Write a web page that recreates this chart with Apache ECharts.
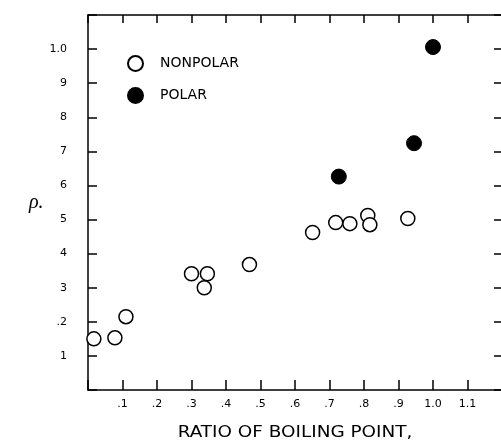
<!DOCTYPE html>
<html>
<head>
<meta charset="utf-8">
<script src="https://cdn.jsdelivr.net/npm/echarts@6/dist/echarts.min.js"></script>
<style>html,body{margin:0;padding:0;background:#fff}#c{width:501px;height:441px}</style>
</head>
<body>
<div id="c"></div>
<script>
// Data
var nonpolarX = [0.017, 0.078, 0.11, 0.30, 0.346, 0.337, 0.468, 0.651, 0.718, 0.759, 0.811, 0.817, 0.927];
var nonpolarY = [0.15, 0.153, 0.215, 0.341, 0.341, 0.30, 0.368, 0.462, 0.491, 0.488, 0.512, 0.485, 0.503];
var polarX = [0.727, 0.945, 1.0];
var polarY = [0.626, 0.724, 1.006];
var xTickLabels = ['', '.1', '.2', '.3', '.4', '.5', '.6', '.7', '.8', '.9', '1.0', '1.1', ''];
var yTickLabels = ['', '1', '.2', '3', '4', '5', '6', '7', '8', '9', '1.0', ''];
var xTitle = 'RATIO OF BOILING POINT,';
var yTitle = 'ρ.';

function zip(a, b) { return a.map(function (v, i) { return [v, b[i]]; }); }

var chart = echarts.init(document.getElementById('c'), null, { renderer: 'canvas' });
var lineStyle = { color: '#000', width: 1.5 };
var font = 'DejaVu Sans';
chart.setOption({
  animation: false,
  backgroundColor: '#fff',
  grid: { left: 88, right: -1, top: 15, bottom: 51, outerBoundsMode: 'none', containLabel: false },
  legend: {
    orient: 'vertical', left: 122, top: 50, itemGap: 15,
    itemWidth: 15, itemHeight: 15, icon: 'circle',
    textStyle: { fontFamily: 'DejaVu Sans', fontSize: 14, color: '#000', padding: [0, 0, 0, 12] },
    data: ['NONPOLAR', 'POLAR']
  },
  graphic: [{
    type: 'text', x: 295, y: 433, scaleX: 1.15, originX: 0, originY: 0,
    style: { text: xTitle, fontFamily: font, fontSize: 16, fill: '#000', align: 'center', verticalAlign: 'middle' }
  }],
  xAxis: [{
    type: 'value', min: 0, max: 1.2, interval: 0.1, position: 'bottom',
    axisLine: { onZero: false, lineStyle: lineStyle },
    axisTick: { inside: true, length: 10, lineStyle: lineStyle },
    splitLine: { show: false },
    axisLabel: {
      margin: 9, fontSize: 11, color: '#000', fontFamily: font,
      formatter: function (v) { return xTickLabels[Math.round(v * 10)]; }
    }
  }, {
    type: 'value', min: 0, max: 1.2, interval: 0.1, position: 'top',
    axisLine: { onZero: false, lineStyle: lineStyle },
    axisTick: { inside: true, length: 8, lineStyle: lineStyle },
    splitLine: { show: false }, axisLabel: { show: false }
  }],
  yAxis: [{
    type: 'value', min: 0, max: 1.1, interval: 0.1, position: 'left',
    axisLine: { show: true, onZero: false, lineStyle: lineStyle },
    axisTick: { show: true, inside: true, length: 9, lineStyle: lineStyle },
    splitLine: { show: false },
    axisLabel: {
      margin: 21, fontSize: 11, color: '#000', fontFamily: font,
      formatter: function (v) { return yTickLabels[Math.round(v * 10)]; }
    },
    name: yTitle, nameLocation: 'middle', nameRotate: 0, nameGap: 37,
    nameTextStyle: { fontSize: 20, fontStyle: 'italic', color: '#000', fontFamily: 'Liberation Serif', padding: [16, 0, 0, 0] }
  }, {
    type: 'value', min: 0, max: 1.1, interval: 0.1, position: 'right',
    axisLine: { show: true, onZero: false, lineStyle: lineStyle },
    axisTick: { show: true, inside: true, length: 8, lineStyle: lineStyle },
    splitLine: { show: false }, axisLabel: { show: false }
  }],
  series: [{
    name: 'NONPOLAR', type: 'scatter', symbol: 'circle', symbolSize: 14,
    itemStyle: { color: '#fff', borderColor: '#000', borderWidth: 1.5, opacity: 1 },
    data: zip(nonpolarX, nonpolarY), clip: false
  }, {
    name: 'POLAR', type: 'scatter', symbol: 'circle', symbolSize: 15,
    itemStyle: { color: '#000', borderColor: '#000', borderWidth: 1, opacity: 1 },
    data: zip(polarX, polarY), clip: false
  }]
});
</script>
</body>
</html>
